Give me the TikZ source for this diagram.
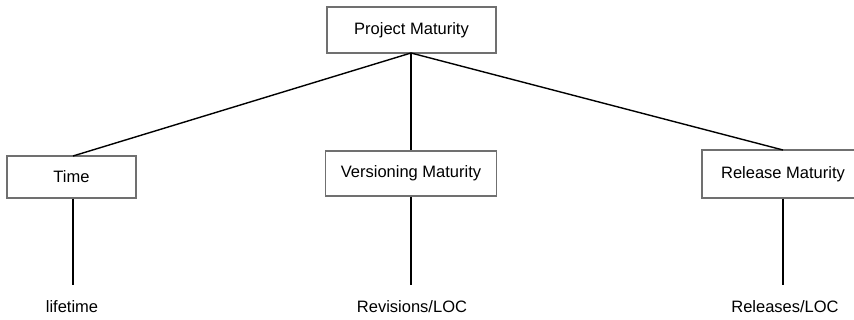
\documentclass[tikz,border=0pt]{standalone}
\usepackage{fontspec}
\setmainfont{Liberation Sans}
\definecolor{boxline}{HTML}{707070}
\begin{document}
\begin{tikzpicture}[x=1pt,y=-1pt,
  box/.style={draw=boxline,line width=1.3pt,fill=white,inner sep=0pt,font=\fontsize{16.5}{18}\selectfont},
  conn/.style={draw=black,line width=1.4pt},
  lbl/.style={inner sep=0pt,font=\fontsize{16.5}{18}\selectfont}]
\useasboundingbox (0,0) rectangle (854,320);
\clip (0,0) rectangle (854,320);
\node[box,minimum width=169pt,minimum height=46pt] (pm) at (411.5,30) {Project Maturity};
\node[box,minimum width=129pt,minimum height=42pt] (time) at (71.5,177) {Time};
\node[box,minimum width=171pt,minimum height=45pt] (vm) at (411,173.5) {Versioning Maturity};
\node[box,minimum width=162pt,minimum height=48pt] (rm) at (783,174) {Release Maturity};
\coordinate (pmb) at (411,53);
\coordinate (tt) at (73,156);
\coordinate (rt) at (783,150);
\coordinate (te) at (73,285);
\coordinate (ve) at (411,285);
\coordinate (re) at (783,285);
\node[lbl] (l1) at (72,307) {lifetime};
\node[lbl] (l2) at (412,307) {Revisions/LOC};
\node[lbl] (l3) at (785,307) {Releases/LOC};
\draw[conn] (pmb) -- (tt);
\draw[conn] (pmb) -- (vm.north);
\draw[conn] (pmb) -- (rt);
\draw[conn] (time.south -| tt) -- (te);
\draw[conn] (vm.south) -- (ve);
\draw[conn] (rm.south) -- (re);
\end{tikzpicture}
\end{document}
